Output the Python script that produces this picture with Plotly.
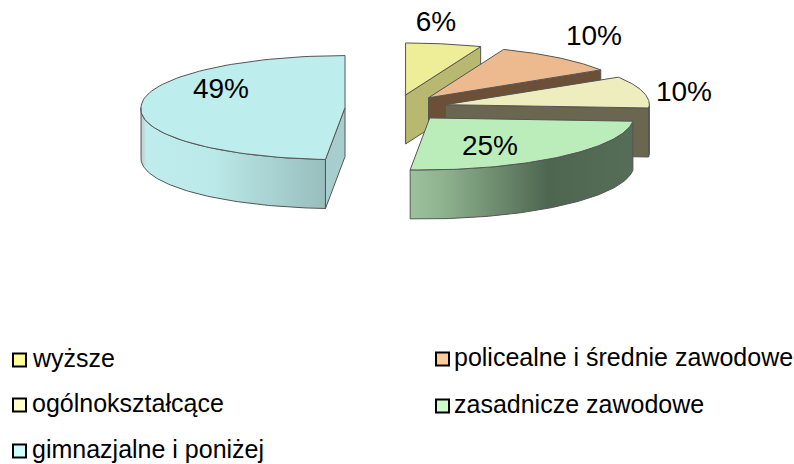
import numpy as np
import plotly.graph_objects as go

categories = ["wyższe", "policealne i średnie zawodowe", "ogólnokształcące",
              "zasadnicze zawodowe", "gimnazjalne i poniżej"]
shares = [6, 10, 10, 25, 49]
top_colors = ["#EEEE99", "#EDB98E", "#EDEDBE", "#BBEDBB", "#BDEDED"]
cut_colors = ["#B8B870", "#6B5037", "#6A6650", None, "#A8CDCF"]
legend_colors = ["#FFFF99", "#FFCC99", "#FFFFCC", "#CCFFCC", "#CCFFFF"]
legend_x = [19.5, 442.5, 19.5, 442.5, 19.5]
legend_text_x = [31, 453, 31, 453, 31]
legend_y = [360, 359, 405, 406, 451]
label_xy = [(436, 24), (594, 38), (684, 94), (490, 148), (221, 91)]
side_scales = {
    3: [[0, "#9CC29C"], [0.15, "#8EB28E"], [0.62, "#4E6650"], [1, "#566E58"]],
    4: [[0, "#C4C8C8"], [0.03, "#BFECEC"], [0.4, "#BBE8E8"], [1, "#98BDBD"]],
    2: [[0, "#6A6650"], [1, "#6A6650"]],
}

CX, CY, RX, RY, DEPTH, EXPLODE, TILT, SKEW = 396, 108, 204, 52, 49, 51, 0.26, 0.13
EDGE = "#555555"


def project(apex, ang):
    """Ellipse point for angle (radians, clockwise from 12 o'clock)."""
    dy = -RY * np.cos(ang)
    x = apex[0] + RX * np.sin(ang) - SKEW * np.maximum(dy, 0)
    return x, apex[1] + dy


fig = go.Figure()


def poly(xs, ys, color=None, gradient=None, width=1):
    kw = dict(fillgradient=dict(type="horizontal", colorscale=gradient)) if gradient else dict(fillcolor=color)
    fig.add_trace(go.Scatter(x=list(xs), y=list(ys), mode="lines", fill="toself",
                             line=dict(color=EDGE, width=width), hoverinfo="skip",
                             showlegend=False, **kw))


fractions = np.cumsum([0] + shares) / sum(shares) * 2 * np.pi
wedges = []
for i in range(len(shares)):
    a0, a1 = fractions[i], fractions[i + 1]
    mid = (a0 + a1) / 2
    apex = (CX + EXPLODE * np.sin(mid), CY - EXPLODE * TILT * np.cos(mid))
    wedges.append((i, a0, a1, apex))

for i, a0, a1, apex in wedges:
    t = np.linspace(a0, a1, 90)
    ax, ay = project(apex, t)
    ex, ey = project(apex, a1 if i < 4 else a0)
    # outer wall of the slice where it faces the viewer
    lo, hi = max(a0, np.pi / 2), min(a1, 3 * np.pi / 2)
    if hi > lo and i in side_scales:
        s = np.linspace(lo, hi, 90)
        sx, sy = project(apex, s)
        poly(np.r_[sx, sx[::-1], sx[0]], np.r_[sy, sy[::-1] + DEPTH, sy[0]], gradient=side_scales[i])
    # cut face
    if cut_colors[i]:
        poly([apex[0], ex, ex, apex[0], apex[0]],
             [apex[1], ey, ey + DEPTH, apex[1] + DEPTH, apex[1]], color=cut_colors[i])
    # top face
    poly(np.r_[apex[0], ax, apex[0]], np.r_[apex[1], ay, apex[1]], color=top_colors[i])

for share, (lx, ly) in zip(shares, label_xy):
    fig.add_trace(go.Scatter(x=[lx], y=[ly], mode="text", text=[f"{share}%"],
                             textposition="middle center", hoverinfo="skip", showlegend=False,
                             textfont=dict(family="Liberation Sans", size=28, color="#000000")))

fig.add_trace(go.Scatter(x=legend_x, y=legend_y, mode="markers", hoverinfo="skip", showlegend=False,
                         marker=dict(symbol="square", size=13, color=legend_colors,
                                     line=dict(color="#000000", width=2))))
for name, tx, ly in zip(categories, legend_text_x, legend_y):
    fig.add_annotation(x=tx, y=ly - 2, text=name, showarrow=False, xanchor="left", yanchor="middle",
                       borderpad=0,
                       font=dict(family="Liberation Sans", size=25, color="#000000"))

fig.update_layout(width=794, height=464, margin=dict(l=0, r=0, t=0, b=0),
                  paper_bgcolor="white", plot_bgcolor="white", showlegend=False,
                  xaxis=dict(range=[0, 794], visible=False, fixedrange=True),
                  yaxis=dict(range=[464, 0], visible=False, fixedrange=True))
fig.write_html("out.html", config={"displayModeBar": False},
               post_script="document.body.style.margin='0';document.body.style.overflow='hidden';")
